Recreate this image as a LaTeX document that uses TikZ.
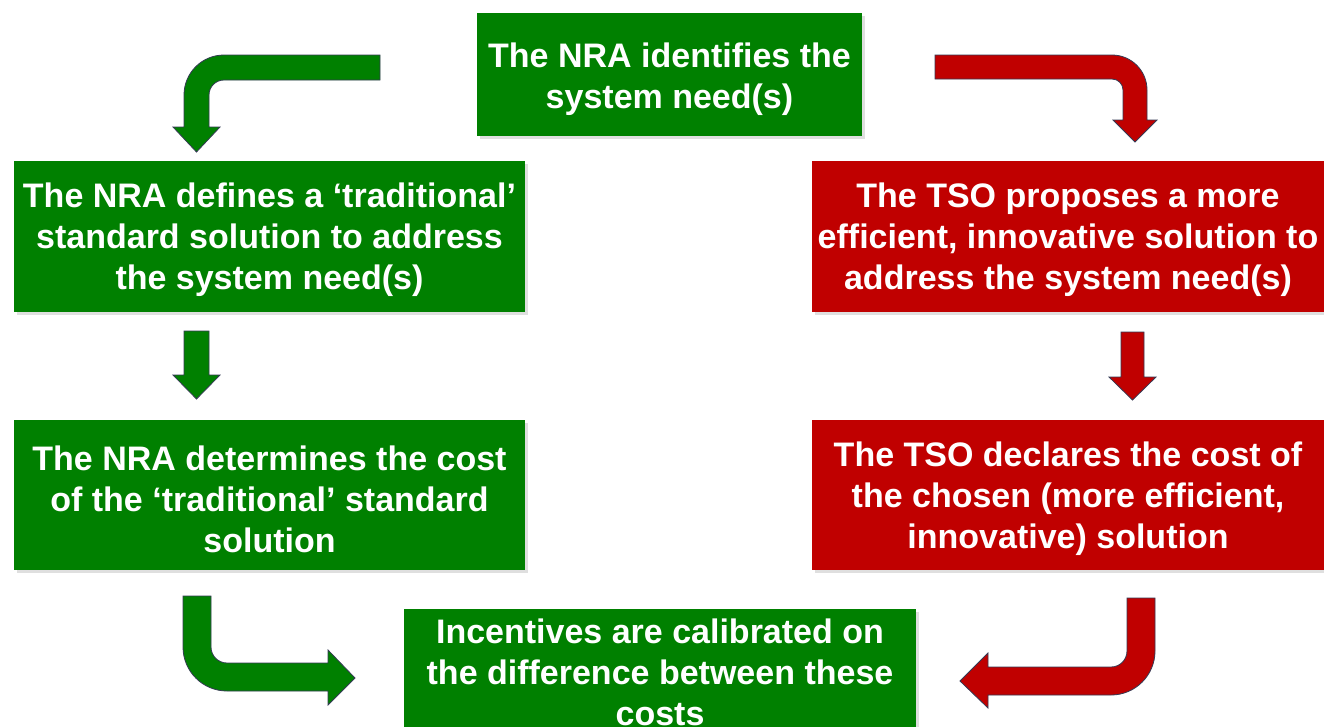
\documentclass[tikz,border=0pt]{standalone}
\usepackage{fontspec}
\setmainfont{Liberation Sans}
\usetikzlibrary{shadows,calc}

\definecolor{nragreen}{RGB}{0,128,0}
\definecolor{tsored}{RGB}{192,0,0}
\definecolor{arrowedge}{RGB}{52,58,84}

\tikzset{
  stepbox/.style={
    minimum width=#1, inner sep=0pt,
    drop shadow={opacity=0.25, shadow xshift=2.5pt, shadow yshift=-2.5pt}
  },
  greenbox/.style={stepbox=#1, fill=nragreen},
  redbox/.style={stepbox=#1, fill=tsored},
  boxtext/.style={inner sep=0pt, align=center, text=white,
    font=\fontsize{34}{41}\selectfont\bfseries},
  greenarrow/.style={fill=nragreen, draw=arrowedge, line width=0.8pt, line join=miter},
  redarrow/.style={fill=tsored, draw=arrowedge, line width=0.8pt, line join=miter}
}

\begin{document}
\begin{tikzpicture}[x=1pt, y=1pt]
  \useasboundingbox (0,0) rectangle (1324,-726);
  \fill[white] (0,0) rectangle (1324,-726);

  % boxes
  \node[greenbox=385pt, minimum height=123pt] (need) at (669.5,-74.5) {};
  \node[greenbox=511pt, minimum height=151pt] (nradef) at (269.5,-236.5) {};
  \node[redbox=512pt, minimum height=151pt] (tsoprop) at (1068,-236.5) {};
  \node[greenbox=511pt, minimum height=150pt] (nracost) at (269.5,-495) {};
  \node[redbox=512pt, minimum height=150pt] (tsocost) at (1068,-495) {};
  \node[greenbox=512pt, minimum height=124pt] (incent) at (660,-671) {};

  % box texts, set a little below each box centre
  \node[boxtext] (need-t) at ($(need.center)+(0,-4.5)$)
    {The NRA identifies the\\system need(s)};
  \node[boxtext] (nradef-t) at ($(nradef.center)+(0,-3)$)
    {The NRA defines a ‘traditional’\\standard solution to address\\the system need(s)};
  \node[boxtext] (tsoprop-t) at ($(tsoprop.center)+(0,-3)$)
    {The TSO proposes a more\\efficient, innovative solution to\\address the system need(s)};
  \node[boxtext] (nracost-t) at ($(nracost.center)+(0,-4)$)
    {The NRA determines the cost\\of the ‘traditional’ standard\\solution};
  \node[boxtext] (tsocost-t) at ($(tsocost.center)+(0,-4)$)
    {The TSO declares the cost of\\the chosen (more efficient,\\innovative) solution};
  \node[boxtext] (incent-t) at ($(incent.center)+(0,-1)$)
    {Incentives are calibrated on\\the difference between these\\costs};

  % need -> nradef : bent block arrow (left, then down)
  \path[greenarrow] (380,-55) -- (224,-55) arc[start angle=90, end angle=180, radius=40]
    -- (184,-127) -- (173,-127) -- (196.5,-152) -- (220,-127) -- (209,-127)
    -- (209,-95) arc[start angle=180, end angle=90, radius=15] -- (380,-80) -- cycle;

  % need -> tsoprop : bent block arrow (right, then down)
  \path[redarrow] (935,-55) -- (1112,-55) arc[start angle=90, end angle=0, radius=35]
    -- (1147,-120) -- (1157,-120) -- (1135,-142) -- (1113,-120) -- (1123,-120)
    -- (1123,-90) arc[start angle=0, end angle=90, radius=11] -- (935,-79) -- cycle;

  % nradef -> nracost
  \path[greenarrow] (184,-331) -- (184,-375) -- (173,-375) -- (196.5,-399)
    -- (220,-375) -- (209,-375) -- (209,-331) -- cycle;

  % tsoprop -> tsocost
  \path[redarrow] (1121,-332) -- (1121,-377) -- (1109,-377) -- (1132.5,-400)
    -- (1156,-377) -- (1144,-377) -- (1144,-332) -- cycle;

  % nracost -> incent : bent block arrow (down, then right)
  \path[greenarrow] (183,-596) -- (183,-647) arc[start angle=180, end angle=270, radius=44]
    -- (328,-691) -- (328,-705) -- (355,-678) -- (328,-650) -- (328,-663)
    -- (227,-663) arc[start angle=270, end angle=180, radius=16] -- (211,-596) -- cycle;

  % tsocost -> incent : bent block arrow (down, then left)
  \path[redarrow] (1155,-598) -- (1155,-651) arc[start angle=0, end angle=-90, radius=44]
    -- (988,-695) -- (988,-708) -- (960,-681) -- (988,-653) -- (988,-667)
    -- (1111,-667) arc[start angle=-90, end angle=0, radius=16] -- (1127,-598) -- cycle;
\end{tikzpicture}
\end{document}
